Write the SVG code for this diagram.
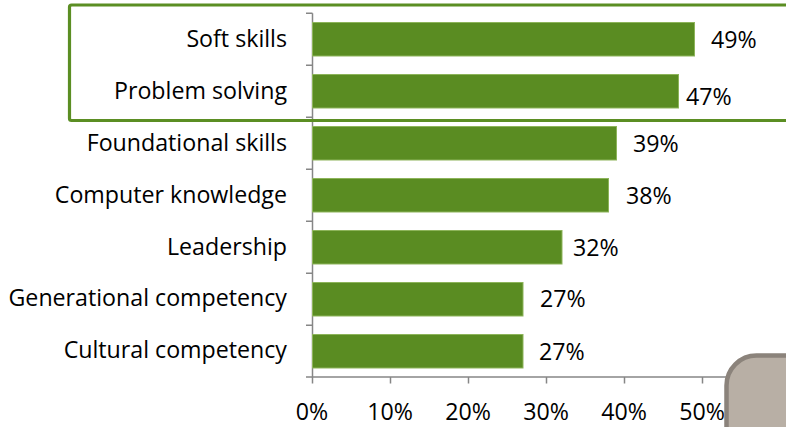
<svg xmlns="http://www.w3.org/2000/svg" width="786" height="427" viewBox="0 0 786 427">
  <style>
    .lbl { font-family: "Open Sans", "Liberation Sans", sans-serif; font-size: 23.2px; fill: #000; }
    .cat { text-anchor: end; }
    .tick { text-anchor: middle; }
    .bar { fill: #5A8C22; stroke: #8DB45A; stroke-width: 1; }
    .axis { stroke: #868686; stroke-width: 1.5; fill: none; }
  </style>
  <rect width="786" height="427" fill="#fff"/>
  <g id="axes">
    <path class="axis" d="M312.5 13.3 V377 H780"/>
    <path class="axis" d="M306 13.3 H312.5 M306 65.3 H312.5 M306 117.3 H312.5 M306 169.3 H312.5 M306 221.3 H312.5 M306 273.3 H312.5 M306 325.3 H312.5 M306 377 H312.5"/>
    <path class="axis" d="M312.5 377 V383.5 M390.5 377 V383.5 M468.5 377 V383.5 M546.5 377 V383.5 M624.5 377 V383.5 M702.5 377 V383.5 M780.5 377 V383.5"/>
    <g class="lbl tick">
      <text x="312" y="420">0%</text>
      <text x="390" y="420">10%</text>
      <text x="468" y="420">20%</text>
      <text x="546" y="420">30%</text>
      <text x="624" y="420">40%</text>
      <text x="702" y="420">50%</text>
    </g>
  </g>
  <g id="soft-skills">
    <rect class="bar" x="312.5" y="22.5" width="382" height="33.5"/>
    <text class="lbl cat" x="287" y="47">Soft skills</text>
    <text class="lbl" x="711" y="48">49%</text>
  </g>
  <g id="problem-solving">
    <rect class="bar" x="312.5" y="74.5" width="366" height="33.5"/>
    <text class="lbl cat" x="287" y="99">Problem solving</text>
    <text class="lbl" x="686" y="105">47%</text>
  </g>
  <g id="foundational-skills">
    <rect class="bar" x="312.5" y="126.5" width="304" height="33.5"/>
    <text class="lbl cat" x="287" y="151">Foundational skills</text>
    <text class="lbl" x="633" y="152">39%</text>
  </g>
  <g id="computer-knowledge">
    <rect class="bar" x="312.5" y="178.5" width="296" height="33.5"/>
    <text class="lbl cat" x="287" y="203">Computer knowledge</text>
    <text class="lbl" x="626" y="204">38%</text>
  </g>
  <g id="leadership">
    <rect class="bar" x="312.5" y="230.5" width="249.5" height="33.5"/>
    <text class="lbl cat" x="287" y="255">Leadership</text>
    <text class="lbl" x="573" y="256">32%</text>
  </g>
  <g id="generational-competency">
    <rect class="bar" x="312.5" y="282.5" width="210.5" height="33.5"/>
    <text class="lbl cat" x="287" y="306">Generational competency</text>
    <text class="lbl" x="540" y="307">27%</text>
  </g>
  <g id="cultural-competency">
    <rect class="bar" x="312.5" y="334.5" width="210.5" height="33.5"/>
    <text class="lbl cat" x="287" y="358">Cultural competency</text>
    <text class="lbl" x="539" y="360">27%</text>
  </g>
  <g id="highlight-box">
    <rect x="69.5" y="5" width="740" height="115.5" rx="2" fill="none" stroke="#5B8E23" stroke-width="3.2"/>
  </g>
  <g id="gray-shape">
    <rect x="726.5" y="355.5" width="120" height="120" rx="30" fill="#B8AFA5" stroke="#8B837B" stroke-width="4.5"/>
  </g>
</svg>
